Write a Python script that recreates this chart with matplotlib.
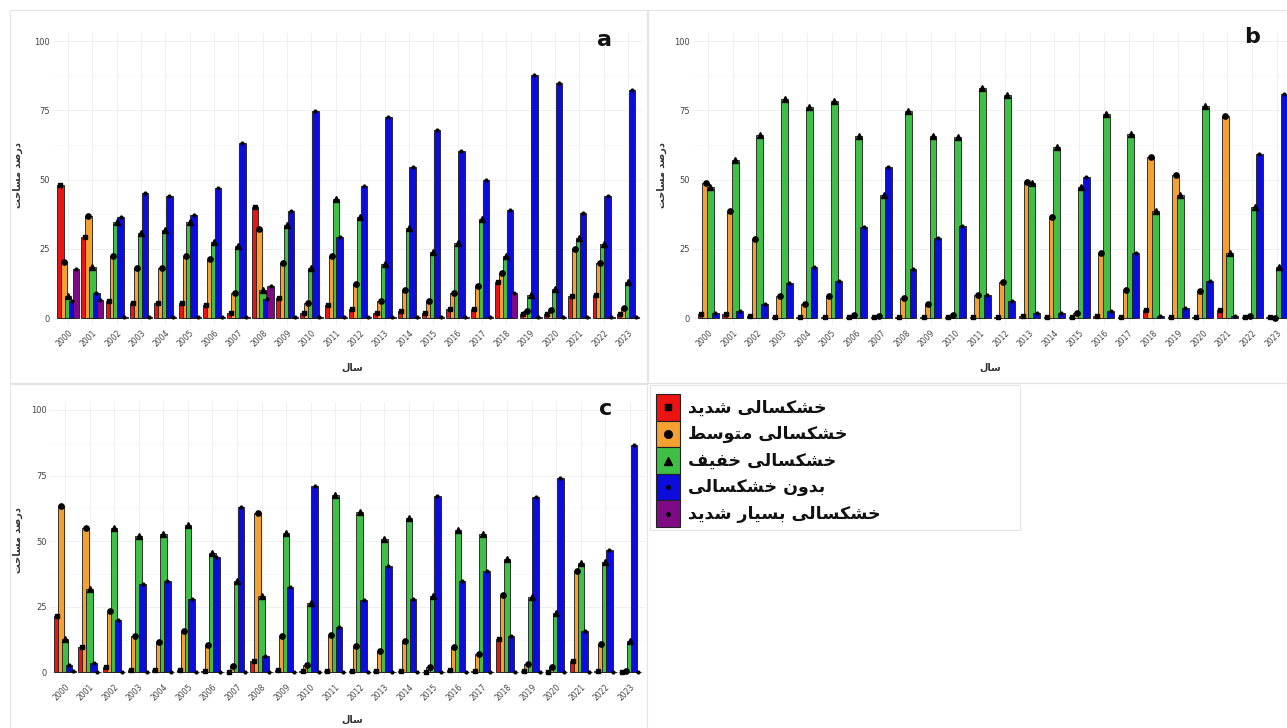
import matplotlib
matplotlib.use("Agg")
import matplotlib.pyplot as plt
from matplotlib.patches import Rectangle
from matplotlib import font_manager
import numpy as np

# ---------------- data ----------------
years = list(range(2000, 2024))

# panel a
a_severe = [48.0, 29.4, 6.0, 5.6, 5.6, 5.6, 4.8, 1.8, 40.2, 7.4, 1.8, 4.8, 3.2, 2.0, 2.4, 1.8, 3.2, 3.2, 13.2, 1.4, 1.4, 7.8, 8.4, 1.4]
a_moderate = [20.4, 36.9, 22.4, 18.2, 18.2, 22.4, 21.2, 9.0, 32.0, 19.8, 5.4, 22.4, 12.4, 6.0, 10.2, 6.0, 9.2, 11.4, 16.4, 2.4, 3.0, 24.8, 19.8, 3.6]
a_mild = [8.0, 18.6, 34.5, 30.6, 31.8, 34.5, 27.6, 26.0, 10.2, 33.6, 18.2, 43.0, 36.6, 19.6, 32.4, 24.0, 27.0, 35.7, 22.4, 8.4, 10.4, 29.0, 26.6, 13.2]
a_none = [6.0, 9.0, 36.4, 45.0, 44.2, 37.2, 46.8, 63.3, 6.8, 38.8, 74.8, 29.2, 47.7, 72.6, 54.6, 68.0, 60.4, 50.0, 39.0, 87.6, 84.9, 37.8, 44.2, 82.2]
a_extreme = [17.6, 6.6, 0.5, 0.3, 0.3, 0.3, 0.3, 0.3, 11.6, 0.3, 0.3, 0.3, 0.3, 0.3, 0.3, 0.3, 0.3, 0.3, 9.0, 0.3, 0.3, 0.3, 0.3, 0.3]

# panel b
b_severe = [1.4, 1.4, 0.6, 0.4, 0.4, 0.4, 0.4, 0.4, 0.4, 0.4, 0.4, 0.4, 0.4, 0.6, 0.4, 0.4, 0.6, 0.4, 2.8, 0.4, 0.4, 2.8, 0.4, 0.4]
b_moderate = [48.9, 38.8, 28.5, 8.0, 5.2, 8.0, 1.2, 0.8, 7.2, 5.2, 1.2, 8.4, 13.2, 49.2, 36.4, 2.0, 23.4, 10.0, 58.0, 51.6, 9.6, 72.9, 0.6, 0.2]
b_mild = [47.4, 57.0, 66.0, 78.9, 76.2, 78.3, 65.7, 44.4, 74.7, 65.7, 65.4, 83.2, 80.4, 48.9, 61.8, 47.2, 73.8, 66.4, 38.8, 44.4, 76.7, 23.6, 40.0, 18.6]
b_none = [2.0, 2.4, 5.2, 12.6, 18.6, 13.4, 32.7, 54.6, 17.6, 28.8, 33.3, 8.4, 6.0, 1.8, 1.8, 51.0, 2.4, 23.6, 0.6, 3.6, 13.4, 0.8, 59.2, 80.8]

# panel c
c_severe = [21.5, 9.8, 1.9, 0.9, 0.9, 0.9, 0.6, 0.3, 4.3, 0.9, 0.6, 0.4, 0.4, 0.4, 0.4, 0.3, 0.9, 0.4, 12.7, 0.6, 0.3, 4.2, 0.4, 0.1]
c_moderate = [63.4, 54.9, 23.5, 14.0, 11.7, 15.9, 10.4, 2.4, 60.9, 13.9, 2.8, 14.4, 9.9, 8.0, 12.0, 2.2, 9.5, 7.0, 29.5, 3.2, 2.2, 38.5, 10.8, 0.6]
c_mild = [12.6, 31.6, 55.1, 52.0, 52.7, 56.2, 45.6, 34.9, 29.1, 53.0, 26.3, 67.6, 61.3, 50.8, 59.0, 29.2, 54.3, 52.7, 43.2, 28.8, 22.5, 41.5, 41.9, 12.1]
c_none = [2.8, 3.7, 20.0, 33.7, 34.9, 27.8, 44.1, 63.2, 6.2, 32.7, 71.0, 17.2, 27.6, 40.7, 28.0, 67.3, 34.7, 38.8, 14.0, 66.7, 74.0, 15.9, 46.6, 86.7]
c_extreme = [0.6, 0.3, 0.1, 0.1, 0.1, 0.1, 0.1, 0.1, 0.1, 0.1, 0.3, 0.1, 0.1, 0.1, 0.1, 0.1, 0.1, 0.1, 0.2, 0.1, 0.1, 0.2, 0.1, 0.1]

labels_fa = ["خشکسالی شدید", "خشکسالی متوسط", "خشکسالی خفیف", "بدون خشکسالی", "خشکسالی بسیار شدید"]
xlabel_fa = "سال"
ylabel_fa = "درصد مساحت"

colors = ["#ec1313", "#f4a132", "#3fbf45", "#0c0cdc", "#7e0a86"]
markers = ["s", "o", "^", ".", "."]
marker_sizes = [3.0, 3.8, 3.8, 4.0, 4.0]

# ---------------- simple Arabic-script shaping ----------------
FONT_PATH = font_manager.findfont(font_manager.FontProperties(family="DejaVu Sans"))
try:
    from fontTools.ttLib import TTFont
    _cmap = TTFont(FONT_PATH).getBestCmap()
except Exception:
    _cmap = {}

FORMS = {
    "ا": (0xFE8D, 0xFE8E, 0xFE8D, 0xFE8E),
    "ب": (0xFE8F, 0xFE90, 0xFE91, 0xFE92),
    "ت": (0xFE95, 0xFE96, 0xFE97, 0xFE98),
    "ح": (0xFEA1, 0xFEA2, 0xFEA3, 0xFEA4),
    "خ": (0xFEA5, 0xFEA6, 0xFEA7, 0xFEA8),
    "د": (0xFEA9, 0xFEAA, 0xFEA9, 0xFEAA),
    "ر": (0xFEAD, 0xFEAE, 0xFEAD, 0xFEAE),
    "س": (0xFEB1, 0xFEB2, 0xFEB3, 0xFEB4),
    "ش": (0xFEB5, 0xFEB6, 0xFEB7, 0xFEB8),
    "ص": (0xFEB9, 0xFEBA, 0xFEBB, 0xFEBC),
    "ط": (0xFEC1, 0xFEC2, 0xFEC3, 0xFEC4),
    "ف": (0xFED1, 0xFED2, 0xFED3, 0xFED4),
    "ل": (0xFEDD, 0xFEDE, 0xFEDF, 0xFEE0),
    "م": (0xFEE1, 0xFEE2, 0xFEE3, 0xFEE4),
    "ن": (0xFEE5, 0xFEE6, 0xFEE7, 0xFEE8),
    "و": (0xFEED, 0xFEEE, 0xFEED, 0xFEEE),
    "ک": (0xFB8E, 0xFB8F, 0xFB90, 0xFB91),
    "ی": (0xFBFC, 0xFBFD, 0xFBFE, 0xFBFF),
}
FALLBACK = {
    "ک": (0xFED9, 0xFEDA, 0xFEDB, 0xFEDC),
    "ی": (0xFEEF, 0xFEF0, 0xFEF3, 0xFEF4),
}
for k, v in FALLBACK.items():
    if _cmap and not all(c in _cmap for c in FORMS[k]):
        FORMS[k] = v

DUAL = set("بتحخسشصطفلمنکی")
RIGHT = set("ادرو")


def shape(s):
    out = []
    for i, ch in enumerate(s):
        if ch not in FORMS:
            out.append(ch)
            continue
        prev = s[i - 1] if i > 0 else ""
        nxt = s[i + 1] if i + 1 < len(s) else ""
        jp = prev in DUAL
        jn = ch in DUAL and (nxt in DUAL or nxt in RIGHT)
        f = FORMS[ch]
        if jp and jn:
            g = f[3]
        elif jp:
            g = f[1]
        elif jn:
            g = f[2]
        else:
            g = f[0]
        out.append(chr(g))
    return "".join(reversed(out))


# ---------------- figure ----------------
W, H = 1287, 728
fig = plt.figure(figsize=(W / 100, H / 100), dpi=100)
fig.patch.set_facecolor("white")


def px_axes(left, top, right, bottom):
    return fig.add_axes([left / W, 1 - bottom / H, (right - left) / W, (bottom - top) / H])


def draw_panel(ax, series, cols, marks, msizes, offset, width, letter):
    n = len(series)
    x = np.arange(len(years))
    for k, (vals, c, m, ms) in enumerate(zip(series, cols, marks, msizes)):
        xo = x + (k - (n - 1) / 2) * offset
        ax.bar(xo, vals, width=width, color=c, edgecolor="#1a1a1a", linewidth=0.6, zorder=3)
        ax.plot(xo, vals, linestyle="none", marker=m, color="black", markersize=ms, zorder=4)
    ax.set_xlim(-0.6, 23.6)
    ax.set_ylim(-2.5, 103)
    ax.set_xticks(x)
    ax.set_xticklabels([str(y) for y in years], rotation=45, ha="right", va="top",
                       rotation_mode="anchor", fontsize=5.5, color="#444444")
    ax.set_yticks([0, 25, 50, 75, 100])
    ax.set_yticklabels(["0", "25", "50", "75", "100"], fontsize=6, color="#444444")
    ax.set_yticks([12.5, 37.5, 62.5, 87.5], minor=True)
    ax.tick_params(axis="both", which="both", length=0, pad=2.5)
    ax.grid(True, which="major", color="#ececec", linewidth=0.6, zorder=0)
    ax.grid(True, which="minor", axis="y", color="#f4f4f4", linewidth=0.4, zorder=0)
    for s in ax.spines.values():
        s.set_visible(False)
    ax.set_axisbelow(True)
    ax.set_facecolor("white")
    ax.text(0.935, 0.975, letter, transform=ax.transAxes, fontsize=16, fontweight="bold",
            ha="center", va="center", color="#111111")


# panel borders
for (l, t, r, b) in [(10, 10, 647, 383), (648, 10, 1290, 383), (10, 384, 647, 730), (650, 385, 1020, 530)]:
    fig.add_artist(Rectangle((l / W, 1 - b / H), (r - l) / W, (b - t) / H, transform=fig.transFigure,
                             fill=False, edgecolor="#e4e4e4", linewidth=0.8))

ax_a = px_axes(53.4, 32.7, 642.6, 325)
draw_panel(ax_a, [a_severe, a_moderate, a_mild, a_none, a_extreme], colors, markers, marker_sizes,
           0.16, 0.27, "a")

ax_b = px_axes(693.2, 32.7, 1291.8, 325)
draw_panel(ax_b, [b_severe, b_moderate, b_mild, b_none], colors[:4], markers[:4], marker_sizes[:4],
           0.19, 0.28, "")
fig.text(1252 / W, 1 - 37 / H, "b", fontsize=16, fontweight="bold", ha="center", va="center", color="#111111")

ax_c = px_axes(50.3, 402.1, 644.7, 678.9)
draw_panel(ax_c, [c_severe, c_moderate, c_mild, c_none, c_extreme], colors, markers, marker_sizes,
           0.16, 0.27, "c")

# axis titles
for (x, y) in [(18, 175), (662, 175), (18, 540)]:
    fig.text(x / W, 1 - y / H, shape(ylabel_fa), rotation=90, fontsize=7, fontweight="bold",
             ha="center", va="center", color="#333333")
for (x, y) in [(352, 368), (990, 368), (352, 720)]:
    fig.text(x / W, 1 - y / H, shape(xlabel_fa), fontsize=7, fontweight="bold",
             ha="center", va="center", color="#333333")

# legend
row_h = 26.6
top0 = 394
for i, (lab, c, m) in enumerate(zip(labels_fa, colors, markers)):
    t = top0 + i * row_h
    fig.add_artist(Rectangle((656 / W, 1 - (t + row_h) / H), 24 / W, row_h / H, transform=fig.transFigure,
                             facecolor=c, edgecolor="#222222", linewidth=0.8))
    ms = 5.0 if m == "s" else (5.5 if m in ("o", "^") else 5)
    fig.add_artist(plt.Line2D([668 / W], [1 - (t + row_h / 2) / H], transform=fig.transFigure,
                              marker=m, color="black", markersize=ms, linestyle="none"))
    fig.text(688 / W, 1 - (t + row_h / 2) / H, shape(lab), fontsize=12.5, fontweight="bold",
             ha="left", va="center", color="#111111")

fig.savefig("out.png", dpi=100, facecolor="white")
